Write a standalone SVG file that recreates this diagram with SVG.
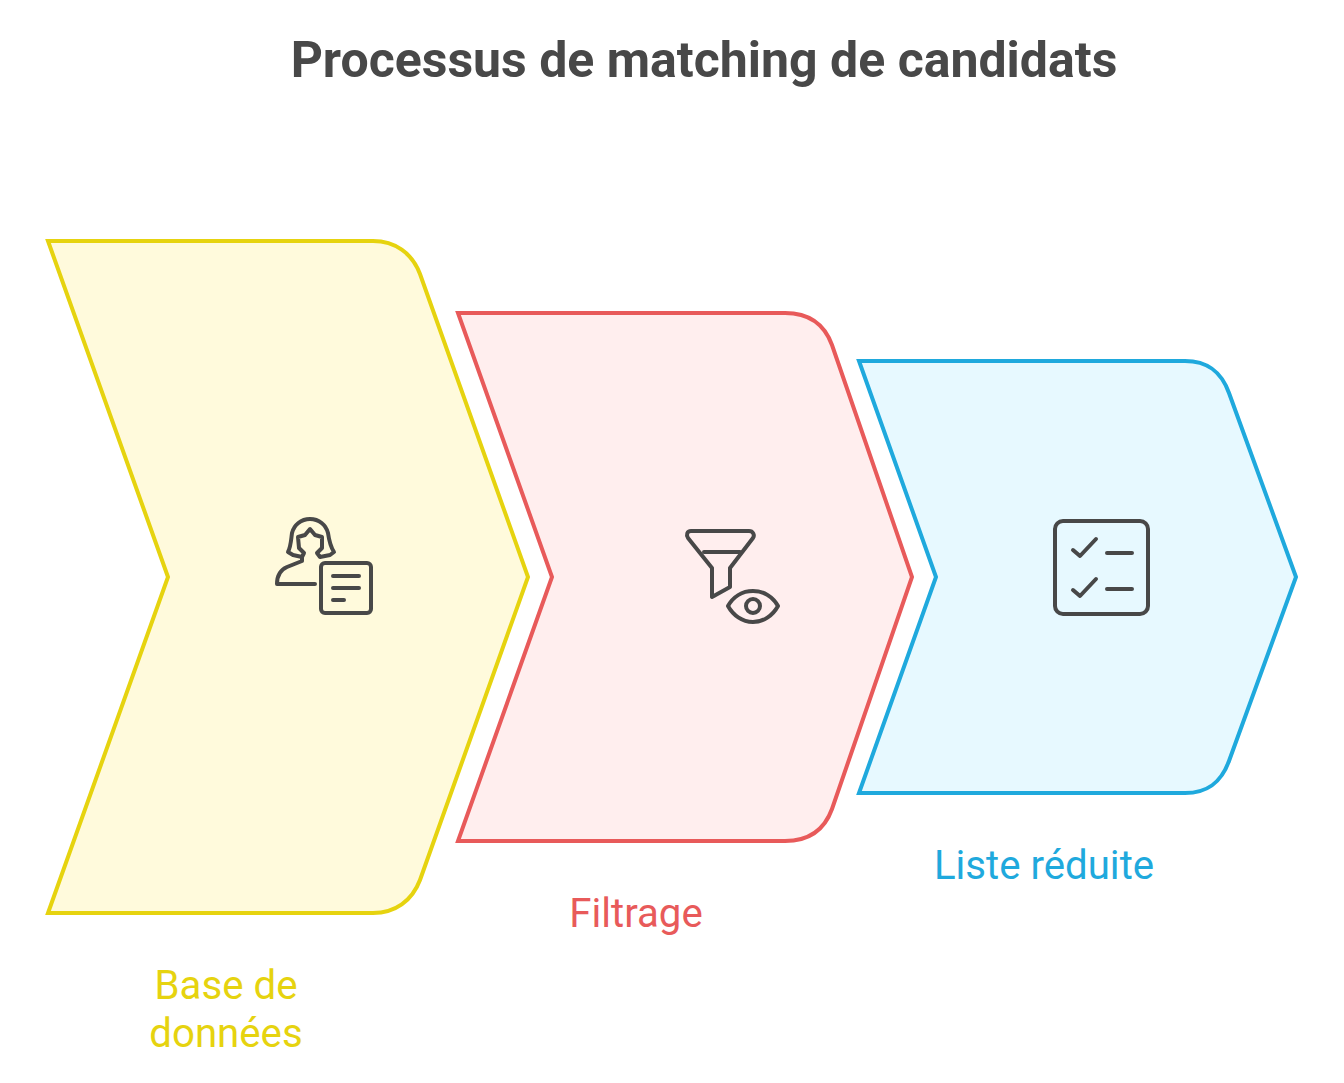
<svg xmlns="http://www.w3.org/2000/svg" width="1344" height="1083" viewBox="0 0 1344 1083">
<style>
text{font-family:Roboto,"Liberation Sans",sans-serif;text-anchor:middle}
.title{font-size:50px;font-weight:700;fill:#484848}
.lab{font-size:40.2px;font-weight:400}
.shape{stroke-width:4;stroke-linejoin:miter}
.icon{fill:none;stroke:#484848;stroke-width:4;stroke-linecap:round;stroke-linejoin:round}
</style>
<rect width="1344" height="1083" fill="#fff"/>
<text class="title" x="704" y="77">Processus de matching de candidats</text>
<g id="node-base">
<path class="shape" fill="#fffadc" stroke="#e6d30f" d="M48 241H373C395 241 412 253 420 274L528 577L420 880C412 901 395 913 373 913H48L168 577Z"/>
<g class="icon">
<path d="M288 552C291 546 291 540 292 533C294 525 301 519 310 519C319 519 326 525 328 533C329 540 330 546 334 552L330 555L320 557L317 553L322 548V537L315 535L310 529L305 535L298 537L299 548L304 553L302 557L293 555Z"/>
<path d="M302 558V561L287 567C280 570 277 576 277 584H315"/>
<rect x="321" y="563" width="50" height="50" rx="4"/>
<path d="M333 576H359M333 588H359M333 600H344"/>
</g>
<text class="lab" fill="#e6d30f" x="226" y="999">Base de</text>
<text class="lab" fill="#e6d30f" x="226" y="1047">données</text>
</g>
<g id="node-filtrage">
<path class="shape" fill="#ffeeee" stroke="#e85a5a" d="M458 313H785C807 313 824 323 832 345L912 577L832 809C824 831 807 841 785 841H458L552 577Z"/>
<g class="icon">
<path d="M691 531H749C753 531 755 535 753 538L730 568V587L712 597V568L688 538C686 535 687 531 691 531Z"/>
<path d="M704 552H740"/>
<path d="M728 606C733 597 742 591 753 591C764 591 773 597 778 606C773 615 764 622 753 622C742 622 733 615 728 606Z"/>
<circle cx="753" cy="606" r="7"/>
</g>
<text class="lab" fill="#e85a5a" x="636" y="927">Filtrage</text>
</g>
<g id="node-liste">
<path class="shape" fill="#e7f9ff" stroke="#1fa9dd" d="M859 361H1185C1207 361 1221 371 1229 393L1296 577L1229 761C1221 783 1207 793 1185 793H859L936 577Z"/>
<g class="icon">
<rect x="1055" y="521" width="93" height="93" rx="8"/>
<path d="M1073 550L1080 556L1096 539M1073 590L1080 596L1096 579M1107 553H1132M1107 589H1132"/>
</g>
<text class="lab" fill="#1fa9dd" x="1044" y="879">Liste réduite</text>
</g>
<g id="connectors"></g>
</svg>
